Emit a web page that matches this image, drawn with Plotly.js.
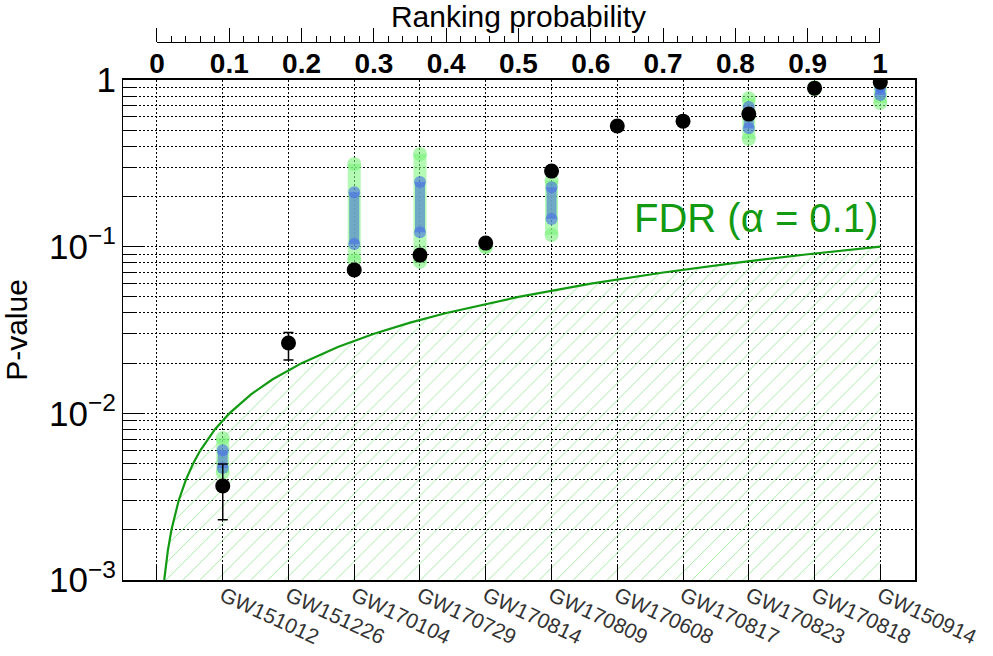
<!DOCTYPE html>
<html><head><meta charset="utf-8">
<script src="https://cdn.plot.ly/plotly-3.0.1.min.js"></script>
<style>body{margin:0;background:#fff}</style>
</head><body><div id="plot" style="width:993px;height:656px"></div>
<script>
// Events and their ranking probabilities
const events = ['GW151012','GW151226','GW170104','GW170729','GW170814','GW170809','GW170608','GW170817','GW170823','GW170818','GW150914'];
const rankProb = [0.0909,0.1818,0.2727,0.3636,0.4545,0.5455,0.6364,0.7273,0.8182,0.9091,1.0];
// Measured p-values (black points) with asymmetric errors
const pValue   = [0.00367,0.0264,0.0725,0.089,0.105,0.284,0.529,0.566,0.624,0.893,0.97];
const errPlus  = [0.0013,0.0041,0,0,0,0,0,0,0,0,0];
const errMinus = [0.00137,0.0055,0,0,0,0,0,0,0,0,0];
// Outer (green) and inner (blue) ranges
const greenLo = [0.0044,null,0.083,0.081,0.099,0.1175,null,null,0.442,0.88,0.727];
const greenHi = [0.0071,null,0.313,0.36,0.101,0.25,null,null,0.778,0.905,0.97];
const blueLo  = [0.0047,null,0.1036,0.122,null,0.1466,null,null,0.514,null,0.812];
const blueHi  = [0.0060,null,0.212,0.244,null,0.2275,null,null,0.688,null,0.906];
// FDR threshold line (alpha = 0.1)
const fdrX = [0.01,0.012,0.015,0.02,0.025,0.03,0.04,0.05,0.06,0.08,0.1,0.13,0.16,0.2,0.25,0.3,0.35,0.4,0.5,0.6,0.7,0.8,0.9,1.0];
const fdrY = [0.001,0.0012,0.0015,0.002,0.0025,0.003,0.004,0.005,0.006,0.008,0.01,0.013,0.016,0.02,0.025,0.03,0.035,0.04,0.05,0.06,0.07,0.08,0.09,0.1];
const topTicks = [0,0.1,0.2,0.3,0.4,0.5,0.6,0.7,0.8,0.9,1];
const topTickText = ['0','0.1','0.2','0.3','0.4','0.5','0.6','0.7','0.8','0.9','1'];

function segs(lo, hi){
  const xs=[], ys=[], mx=[], my=[];
  for(let i=0;i<rankProb.length;i++){
    if(lo[i]==null) continue;
    xs.push(rankProb[i],rankProb[i],null); ys.push(lo[i],hi[i],null);
    mx.push(rankProb[i],rankProb[i]); my.push(lo[i],hi[i]);
  }
  return {xs,ys,mx,my};
}
const g = segs(greenLo, greenHi), b = segs(blueLo, blueHi);
const FDRC = '#129a12';

const traces = [
  { // hatched region
    x: fdrX.concat([1,0.01]), y: fdrY.concat([0.001,0.001]),
    mode:'lines', line:{width:0}, fill:'toself', fillcolor:'rgba(0,0,0,0)',
    fillpattern:{shape:'/', fgcolor:'rgba(130,225,130,0.75)', bgcolor:'rgba(255,255,255,0)', size:12, solidity:0.08},
    hoverinfo:'skip'
  },
  { x: fdrX, y: fdrY, mode:'lines', line:{color:FDRC, width:2.2}, hoverinfo:'skip' },
  { x: g.xs, y: g.ys, mode:'lines', line:{color:'rgba(130,245,130,0.6)', width:13}, hoverinfo:'skip' },
  { x: g.mx, y: g.my, mode:'markers', marker:{color:'rgba(120,240,120,0.6)', size:14}, hoverinfo:'skip' },
  { x: b.xs, y: b.ys, mode:'lines', line:{color:'rgba(100,155,200,0.85)', width:10}, hoverinfo:'skip' },
  { x: b.mx, y: b.my, mode:'markers', marker:{color:'rgba(70,110,230,0.6)', size:12}, hoverinfo:'skip' },
  { x: rankProb, y: pValue, mode:'markers', marker:{color:'#000', size:15},
    error_y:{type:'data', symmetric:false, array:errPlus, arrayminus:errMinus, color:'#000', thickness:1.5, width:5} },
  { x:[0.5], y:[0.5], xaxis:'x2', yaxis:'y2', mode:'markers', marker:{opacity:0}, hoverinfo:'skip' },
  { x:[0.5], y:[0.5], xaxis:'x3', yaxis:'y2', mode:'markers', marker:{opacity:0}, hoverinfo:'skip' }
];

const dotted = '2px,2px';
const layout = {
  width:993, height:656,
  margin:{l:123, r:78, t:20, b:76},
  paper_bgcolor:'#fff', plot_bgcolor:'#fff',
  showlegend:false,
  font:{family:'Liberation Sans, Arial, Helvetica, sans-serif', color:'#000'},
  xaxis:{
    domain:[0,1], range:[-0.047,1.048],
    tickmode:'array', tickvals:[0].concat(rankProb), ticktext:[''].concat(events),
    tickangle:25, tickfont:{size:21, color:'#333'}, ticklabelstandoff:-6,
    ticks:'inside', ticklen:14, tickcolor:'#000',
    showline:true, linecolor:'#000', linewidth:1.5, mirror:true,
    showgrid:true, gridcolor:'#000', gridwidth:1, griddash:dotted, zeroline:false
  },
  yaxis:{
    type:'log', range:[-3,0], domain:[0,0.8929], dtick:1, exponentformat:'power',
    tickfont:{size:28}, ticks:'inside', ticklen:22, tickcolor:'#000',
    showline:true, linecolor:'#000', linewidth:1.5, mirror:true,
    showgrid:true, gridcolor:'#000', gridwidth:1, griddash:dotted, zeroline:false,
    minor:{dtick:'D1', ticks:'inside', ticklen:12, tickcolor:'#000', showgrid:true, gridcolor:'#000', griddash:dotted, gridwidth:1},
    title:{text:'P-value', font:{size:30}, standoff:24}
  },
  yaxis2:{domain:[0.93,0.9589], range:[0,1], visible:false},
  xaxis2:{
    anchor:'y2', side:'top', domain:[0.0429,0.9558], range:[0,1],
    tickmode:'linear', tick0:0, dtick:0.1, ticks:'outside', ticklen:14, tickcolor:'#000',
    showticklabels:false, showline:true, linecolor:'#000', linewidth:1.2, showgrid:false, zeroline:false,
    minor:{dtick:0.02, ticks:'outside', ticklen:6, tickcolor:'#000'},
    title:{text:'Ranking probability', font:{size:30}, standoff:2}
  },
  xaxis3:{
    overlaying:'x2', anchor:'free', position:0.895, side:'top', range:[0,1],
    tickmode:'array', tickvals:topTicks, ticktext:topTickText, ticks:'',
    tickfont:{size:28, weight:'bold'}, showline:false, showgrid:false, zeroline:false
  },
  annotations:[{
    xref:'x', yref:'y', x:1.0, y:-0.83, xanchor:'right', yanchor:'middle',
    text:'FDR (α = 0.1)', showarrow:false, font:{size:40, color:FDRC}
  }]
};
Plotly.newPlot('plot', traces, layout, {displayModeBar:false, staticPlot:true});
</script>
</body></html>
